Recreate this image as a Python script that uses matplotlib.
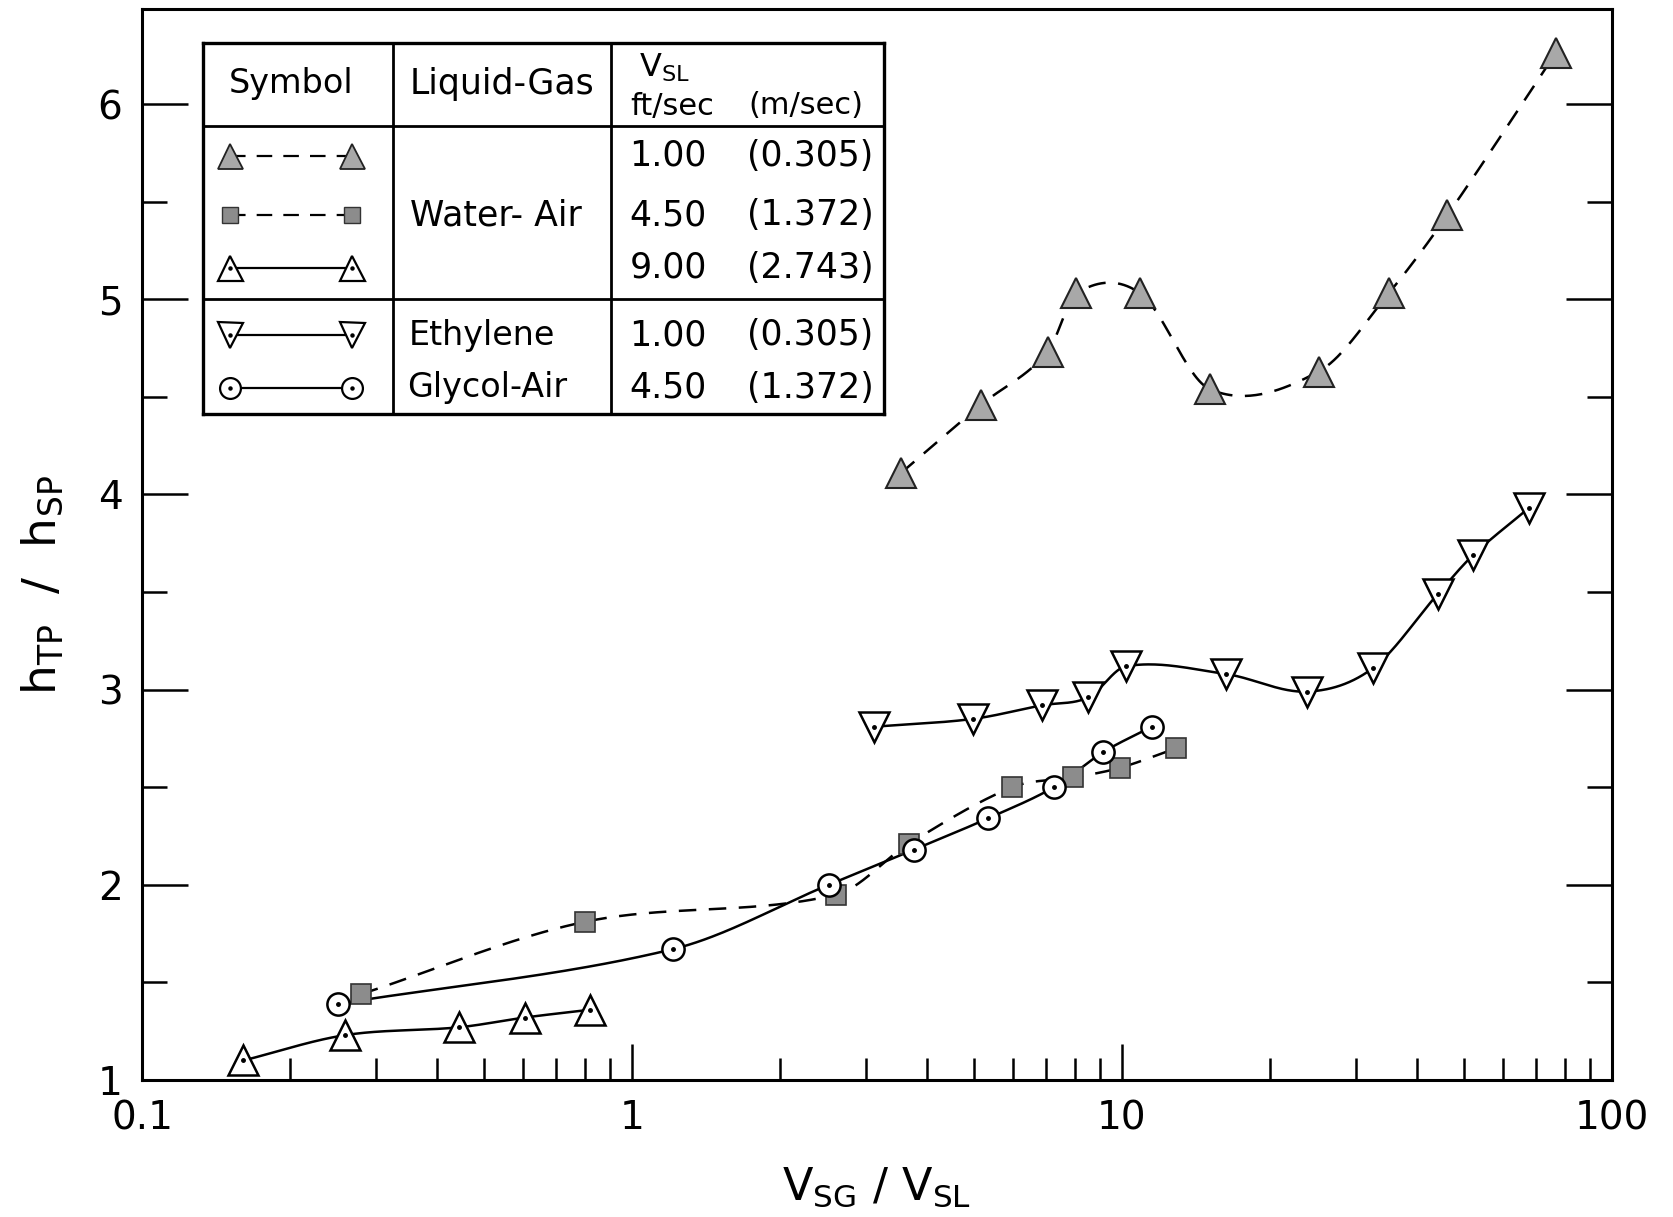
import numpy as np
import matplotlib
matplotlib.use("Agg")
import matplotlib.pyplot as plt
import matplotlib.patches as mpatches
from matplotlib.lines import Line2D

# ---------------- data ----------------
# Water-Air, VSL = 1.00 ft/s (filled triangles, dashed)
wa1_x = [3.54, 5.16, 7.05, 8.07, 10.9, 15.1, 25.2, 35.0, 46.1, 76.7]
wa1_y = [4.11, 4.46, 4.73, 5.03, 5.03, 4.54, 4.63, 5.03, 5.43, 6.26]
# Water-Air, VSL = 4.50 ft/s (filled squares, dashed)
wa45_x = [0.280, 0.80, 2.61, 3.67, 5.97, 7.95, 9.92, 12.9]
wa45_y = [1.44, 1.81, 1.95, 2.21, 2.50, 2.55, 2.60, 2.70]
# Water-Air, VSL = 9.00 ft/s (open triangles, solid)
wa9_x = [0.161, 0.260, 0.443, 0.604, 0.821]
wa9_y = [1.10, 1.23, 1.27, 1.32, 1.36]
# Ethylene Glycol-Air, VSL = 1.00 ft/s (open inverted triangles, solid)
eg1_x = [3.12, 4.96, 6.87, 8.53, 10.2, 16.3, 23.8, 32.5, 44.1, 52.1, 67.6]
eg1_y = [2.81, 2.85, 2.92, 2.96, 3.12, 3.08, 2.99, 3.11, 3.49, 3.69, 3.93]
# Ethylene Glycol-Air, VSL = 4.50 ft/s (open circles, solid)
eg45_x = [0.251, 1.21, 2.52, 3.76, 5.32, 7.26, 9.16, 11.5]
eg45_y = [1.39, 1.67, 2.00, 2.18, 2.34, 2.50, 2.68, 2.81]

x_ticks = [0.1, 1, 10, 100]
x_ticklabels = ["0.1", "1", "10", "100"]
y_ticks = [1, 2, 3, 4, 5, 6]
y_ticklabels = ["1", "2", "3", "4", "5", "6"]

legend_rows = [
    ("1.00", "(0.305)"),
    ("4.50", "(1.372)"),
    ("9.00", "(2.743)"),
    ("1.00", "(0.305)"),
    ("4.50", "(1.372)"),
]


def smooth_curve(xs, ys, n=60):
    """Cardinal (Hermite) curve through the points, in log10(x)."""
    u = np.log10(np.asarray(xs, float))
    y = np.asarray(ys, float)
    m = len(u)
    t = np.zeros(m)
    for i in range(m):
        if i == 0:
            t[i] = (y[1] - y[0]) / (u[1] - u[0])
        elif i == m - 1:
            t[i] = (y[-1] - y[-2]) / (u[-1] - u[-2])
        else:
            t[i] = (y[i + 1] - y[i - 1]) / (u[i + 1] - u[i - 1])
    U, Y = [], []
    for i in range(m - 1):
        h = u[i + 1] - u[i]
        s = np.linspace(0, 1, n)
        h00 = 2 * s**3 - 3 * s**2 + 1
        h10 = s**3 - 2 * s**2 + s
        h01 = -2 * s**3 + 3 * s**2
        h11 = s**3 - s**2
        U.append(u[i] + s * h)
        Y.append(h00 * y[i] + h10 * h * t[i] + h01 * y[i + 1] + h11 * h * t[i + 1])
    return 10 ** np.concatenate(U), np.concatenate(Y)


plt.rcParams['font.family'] = ['DejaVu Sans']
W, H = 1674, 1217
fig = plt.figure(figsize=(W / 100, H / 100), dpi=100)
L, R, T, B = 142, 1612, 8.5, 1080
ax = fig.add_axes([L / W, 1 - B / H, (R - L) / W, (B - T) / H])
ax.set_xscale('log')
ax.set_xlim(0.1, 100)
ax.set_ylim(1, 6.49)

lw = 1.8
dash = (0, (7, 5))
gray_tri = '#a8a8a8'
gray_sq = '#8c8c8c'
ms_tri = 22
ms_circ = 16
ms_sq = 14

# curves
for xs, ys, ls in [(wa1_x, wa1_y, dash), (wa45_x, wa45_y, dash),
                   (wa9_x, wa9_y, '-'), (eg1_x, eg1_y, '-'), (eg45_x, eg45_y, '-')]:
    cx, cy = smooth_curve(xs, ys)
    ax.plot(cx, cy, color='black', lw=lw, ls=ls, zorder=2)

# markers
ax.plot(wa1_x, wa1_y, ls='none', marker='^', ms=ms_tri, mfc=gray_tri,
        mec='#222222', mew=1.5, zorder=3)
ax.plot(wa45_x, wa45_y, ls='none', marker='s', ms=ms_sq, mfc=gray_sq,
        mec='#333333', mew=1.2, zorder=3)
ax.plot(wa9_x, wa9_y, ls='none', marker='^', ms=ms_tri, mfc='white',
        mec='black', mew=1.8, zorder=3)
ax.plot(eg1_x, eg1_y, ls='none', marker='v', ms=ms_tri, mfc='white',
        mec='black', mew=1.8, zorder=3)
ax.plot(eg45_x, eg45_y, ls='none', marker='o', ms=ms_circ, mfc='white',
        mec='black', mew=1.8, zorder=3)
for xs, ys in [(wa9_x, wa9_y), (eg1_x, eg1_y), (eg45_x, eg45_y)]:
    ax.plot(xs, ys, ls='none', marker='o', ms=2.5, color='black', zorder=4)

# axes styling
for s in ax.spines.values():
    s.set_linewidth(2.2)
ax.set_xticks(x_ticks)
ax.set_xticklabels(x_ticklabels)
ax.set_yticks(y_ticks)
ax.set_yticklabels(y_ticklabels)
ax.set_yticks(np.arange(1.5, 6.5, 1.0), minor=True)
ax.xaxis.set_minor_locator(matplotlib.ticker.LogLocator(base=10, subs=np.arange(2, 10)))
ax.xaxis.set_minor_formatter(matplotlib.ticker.NullFormatter())
ax.tick_params(axis='both', which='both', direction='in', labelsize=28, width=1.8,
               colors='black')
ax.tick_params(axis='y', which='major', length=33, right=True, pad=14)
ax.tick_params(axis='y', which='minor', length=18, right=True)
ax.tick_params(axis='x', which='major', length=26, pad=14)
ax.tick_params(axis='x', which='minor', length=16)

ax.set_xlabel(r'V$_{\mathrm{SG}}$ / V$_{\mathrm{SL}}$', fontsize=32, labelpad=20)
ax.set_ylabel(r'h$_{\mathrm{TP}}$  /  h$_{\mathrm{SP}}$', fontsize=34)
ax.yaxis.set_label_coords(-0.052, 0.462)


# ---------------- legend table ----------------
def P(x, y):
    return ((x - L) / (R - L), (B - y) / (B - T))


tr = ax.transAxes


def seg(p0, p1, lw_=2.0):
    a, b_ = P(*p0), P(*p1)
    ax.add_line(Line2D([a[0], b_[0]], [a[1], b_[1]], transform=tr, color='black',
                       lw=lw_, clip_on=False, zorder=5))


tx0, tx1, ty0, ty1 = 203, 884, 43, 414
bg = mpatches.Rectangle(P(tx0, ty1), (tx1 - tx0) / (R - L), (ty1 - ty0) / (B - T),
                        transform=tr, facecolor='white', edgecolor='none', zorder=4.5)
ax.add_patch(bg)
seg((tx0, ty0), (tx1, ty0), 2.4)
seg((tx0, ty1), (tx1, ty1), 2.4)
seg((tx0, ty0), (tx0, ty1), 2.4)
seg((tx1, ty0), (tx1, ty1), 2.4)
seg((393, ty0), (393, ty1))
seg((611, ty0), (611, ty1))
seg((tx0, 126), (tx1, 126))
seg((tx0, 299), (tx1, 299))

fs = 24


def txt(x, y, s, ha='center', size=fs):
    ax.text(*P(x, y), s, transform=tr, ha=ha, va='center', fontsize=size, zorder=6)


txt(291, 84, 'Symbol')
txt(502, 84, 'Liquid-Gas', size=25)
txt(664, 68, r'V$_{\mathrm{SL}}$', size=23)
txt(672, 106, 'ft/sec', size=22)
txt(806, 106, '(m/sec)', size=22)
txt(496, 215, 'Water- Air', size=25)
txt(409, 335, 'Ethylene', ha='left')
txt(407, 388, 'Glycol-Air', ha='left')

row_y = [156, 215, 268, 335, 388]
for (a, b_), yy in zip(legend_rows, row_y):
    txt(668, yy, a, size=25)
    txt(810, yy, b_, size=25)

sym_specs = [
    dict(marker='^', ms=18, mfc=gray_tri, mec='#222222', mew=1.3, ls=dash, dot=False),
    dict(marker='s', ms=12, mfc=gray_sq, mec='#333333', mew=1.0, ls=dash, dot=False),
    dict(marker='^', ms=18, mfc='white', mec='black', mew=1.6, ls='-', dot=True),
    dict(marker='v', ms=18, mfc='white', mec='black', mew=1.6, ls='-', dot=True),
    dict(marker='o', ms=15, mfc='white', mec='black', mew=1.6, ls='-', dot=True),
]
for spec, yy in zip(sym_specs, row_y):
    a, b_ = P(230, yy), P(352, yy)
    ax.add_line(Line2D([a[0], b_[0]], [a[1], b_[1]], transform=tr, color='black',
                       lw=1.6, ls=spec['ls'], clip_on=False, zorder=5.5))
    ax.add_line(Line2D([a[0], b_[0]], [a[1], b_[1]], transform=tr, ls='none',
                       marker=spec['marker'], ms=spec['ms'], mfc=spec['mfc'],
                       mec=spec['mec'], mew=spec['mew'], clip_on=False, zorder=6))
    if spec['dot']:
        ax.add_line(Line2D([a[0], b_[0]], [a[1], b_[1]], transform=tr, ls='none',
                           marker='o', ms=2.2, color='black', clip_on=False, zorder=7))

fig.savefig('out.png', dpi=100)
